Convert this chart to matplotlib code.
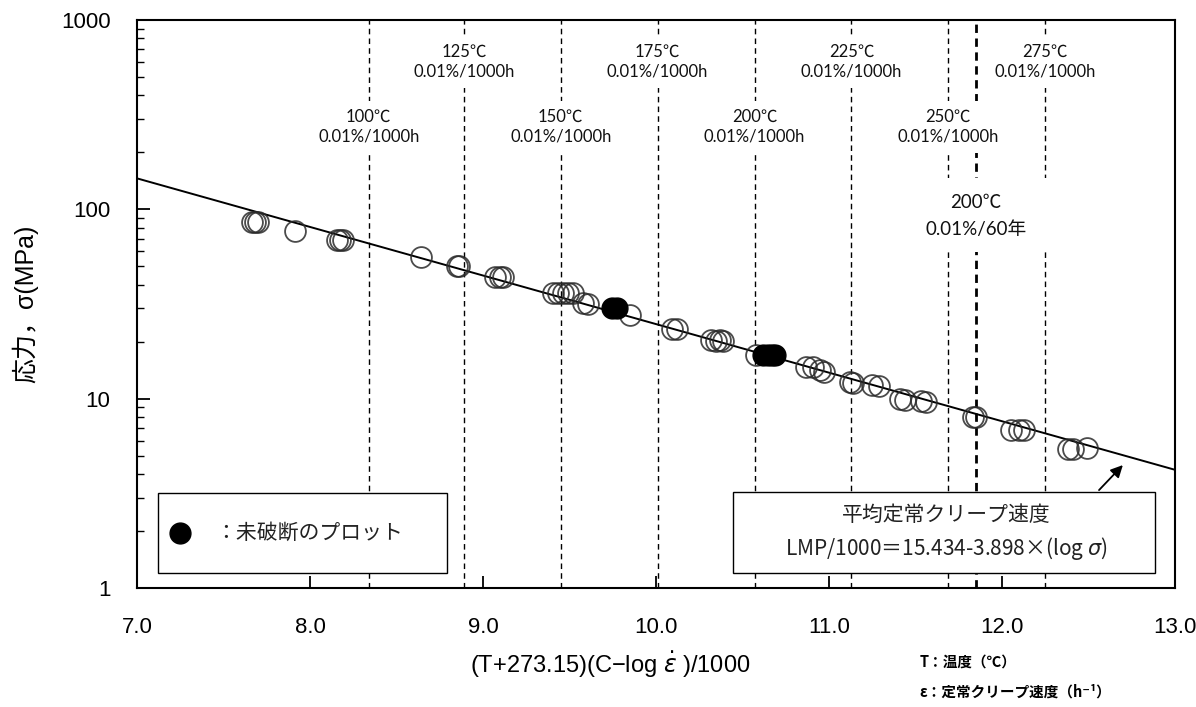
#!/usr/bin/env python3
"""Larson-Miller type plot of creep stress vs. parameter"""

import numpy as np
import matplotlib
matplotlib.use('Agg')
import matplotlib.pyplot as plt
from matplotlib.patches import Rectangle
from matplotlib.ticker import FixedLocator, FixedFormatter, LogLocator, NullFormatter

plt.rcParams['font.family'] = ['Liberation Sans', 'Noto Sans CJK JP']
LBLFONT = ['Lato', 'Noto Sans CJK JP']
JPFONT = ['Noto Sans CJK JP', 'DejaVu Sans']

##########################################################
# data
open_x = [7.665, 7.682, 7.699, 7.913, 8.156, 8.173, 8.191, 8.642, 8.850, 8.861,
          9.069, 9.098, 9.116, 9.405, 9.434, 9.462, 9.491, 9.520, 9.58, 9.61,
          9.85, 10.09, 10.12, 10.32, 10.35, 10.37, 10.39, 10.58, 10.87, 10.91,
          10.95, 10.97, 11.12, 11.14, 11.25, 11.29, 11.41, 11.44, 11.53, 11.56,
          11.83, 11.85, 12.05, 12.10, 12.13, 12.38, 12.41, 12.49]
open_y = [85.7, 85.7, 85.7, 76.7, 68.9, 68.9, 68.9, 56.0, 50.2, 50.2,
          43.8, 43.8, 43.8, 36.1, 36.1, 36.1, 36.1, 36.1, 32.0, 31.6,
          27.5, 23.2, 23.2, 20.5, 20.2, 20.5, 20.2, 17.0, 14.7, 14.7,
          14.2, 13.9, 12.2, 12.1, 11.8, 11.6, 10.0, 9.9, 9.7, 9.6,
          8.0, 8.0, 6.8, 6.8, 6.8, 5.4, 5.4, 5.5]
filled_x = [9.745, 9.775, 10.62, 10.645, 10.67, 10.69]
filled_y = [30.1, 30.1, 17.0, 17.0, 17.0, 17.0]

# fit: LMP/1000 = a - b*log(sigma)
fit_a = 15.434
fit_b = 3.898
fit_xrange = [7.0, 13.0]

# 0.01%/1000h lines
temp_labels = ['100℃', '125℃', '150℃', '175℃', '200℃', '225℃', '250℃', '275℃']
temp_lmp = [8.34, 8.89, 9.45, 10.01, 10.57, 11.13, 11.69, 12.25]
life_label = '200℃\n0.01%/60年'
life_lmp = 11.85

xticks = [7.0, 8.0, 9.0, 10.0, 11.0, 12.0, 13.0]
yticks = [1, 10, 100, 1000]

##########################################################
def main():
    fig = plt.figure(figsize=(11.96, 7.07), dpi=100)
    ax = fig.add_axes([0.1145, 0.1683, 0.8679, 0.8034])

    # vertical guide lines
    for i, (lab, x) in enumerate(zip(temp_labels, temp_lmp)):
        ax.axvline(x, color='black', lw=1.0, ls=(0, (4, 3)), zorder=1)
        ytxt = 0.927 if i % 2 else 0.812
        ax.text(x, ytxt, lab + '\n0.01%/1000h', transform=ax.get_xaxis_transform(),
                ha='center', va='center', fontsize=12, family=LBLFONT,
                linespacing=1.3, zorder=2, color='#111111',
                bbox=dict(facecolor='white', edgecolor='none', pad=6))
    ax.axvline(life_lmp, color='black', lw=2.0, ls=(0, (3, 2)), zorder=1)
    ax.add_patch(Rectangle((0.772, 0.592), 0.108, 0.130, transform=ax.transAxes,
                           facecolor='white', edgecolor='none', zorder=2))
    ax.text(life_lmp, 0.655, life_label, transform=ax.get_xaxis_transform(),
            ha='center', va='center', fontsize=13.5, family=LBLFONT,
            linespacing=1.7, zorder=3, color='#111111')

    # fitted line
    fx = np.array(fit_xrange)
    fy = 10 ** ((fit_a - fx) / fit_b)
    ax.plot(fx, fy, color='black', lw=1.4, zorder=3)

    # data
    ax.plot(open_x, open_y, ls='none', marker='o', ms=15, mfc='none',
            mec='#2b2b2b', mew=1.3, alpha=0.85, zorder=4)
    ax.plot(filled_x, filled_y, ls='none', marker='o', ms=15, mfc='black',
            mec='black', zorder=5)

    # legend box
    ax.add_patch(Rectangle((0.0202, 0.0264), 0.2785, 0.141, transform=ax.transAxes,
                           facecolor='white', edgecolor='black', lw=1.0, zorder=6))
    ax.plot([0.0414], [0.0968], transform=ax.transAxes, marker='o', ms=15,
            color='black', zorder=7)
    ax.text(0.075, 0.0968, '：未破断のプロット', transform=ax.transAxes,
            ha='left', va='center', fontsize=15, family=JPFONT, color='#222222',
            zorder=7)

    # equation box
    ax.add_patch(Rectangle((0.574, 0.0264), 0.4067, 0.1426, transform=ax.transAxes,
                           facecolor='white', edgecolor='black', lw=1.0, zorder=6))
    ax.text(0.780, 0.1285, '平均定常クリープ速度', transform=ax.transAxes,
            ha='center', va='center', fontsize=15, family=JPFONT,
            color='#222222', zorder=7)
    ax.text(0.780, 0.0704, 'LMP/1000＝15.434-3.898×(log $\\sigma$)',
            transform=ax.transAxes, ha='center', va='center', fontsize=15,
            family=JPFONT, color='#222222', zorder=7)
    ax.annotate('', xy=(12.71, 4.57), xytext=(12.55, 3.21),
                arrowprops=dict(arrowstyle='-|>', color='black', lw=1.3,
                                mutation_scale=18), zorder=7)

    # axes
    ax.set_xlim(7.0, 13.0)
    ax.set_yscale('log')
    ax.set_ylim(1, 1000)
    ax.xaxis.set_major_locator(FixedLocator(xticks))
    ax.xaxis.set_major_formatter(FixedFormatter(['{:.1f}'.format(v) for v in xticks]))
    ax.yaxis.set_major_locator(FixedLocator(yticks))
    ax.yaxis.set_major_formatter(FixedFormatter([str(v) for v in yticks]))
    ax.yaxis.set_minor_locator(LogLocator(base=10, subs=np.arange(2, 10)))
    ax.yaxis.set_minor_formatter(NullFormatter())
    ax.tick_params(axis='both', which='major', direction='in', length=9, width=1.3,
                   labelsize=16, pad=21)
    ax.tick_params(axis='y', which='minor', direction='in', length=5, width=1.0)
    ax.tick_params(axis='y', which='major', pad=19)
    ax.tick_params(top=False, right=False)
    for s in ax.spines.values():
        s.set_linewidth(1.5)

    ax.set_xlabel('(T+273.15)(C−log $\\dot{\\varepsilon}$ )/1000', fontsize=17)
    ax.xaxis.set_label_coords(0.456, -0.108)
    ax.set_ylabel('応力，σ(MPa)', fontsize=18)
    ax.yaxis.set_label_coords(-0.095, 0.5)

    fig.text(0.769, 0.0636, 'T：温度（℃）', fontsize=10.5, family=JPFONT,
             fontweight='bold', va='center')
    fig.text(0.769, 0.0212, 'ε：定常クリープ速度（h⁻¹）', fontsize=10.5,
             family=JPFONT, fontweight='bold', va='center')

    fig.savefig('out.png', dpi=100)

##########################################################
if __name__ == "__main__":
    main()
